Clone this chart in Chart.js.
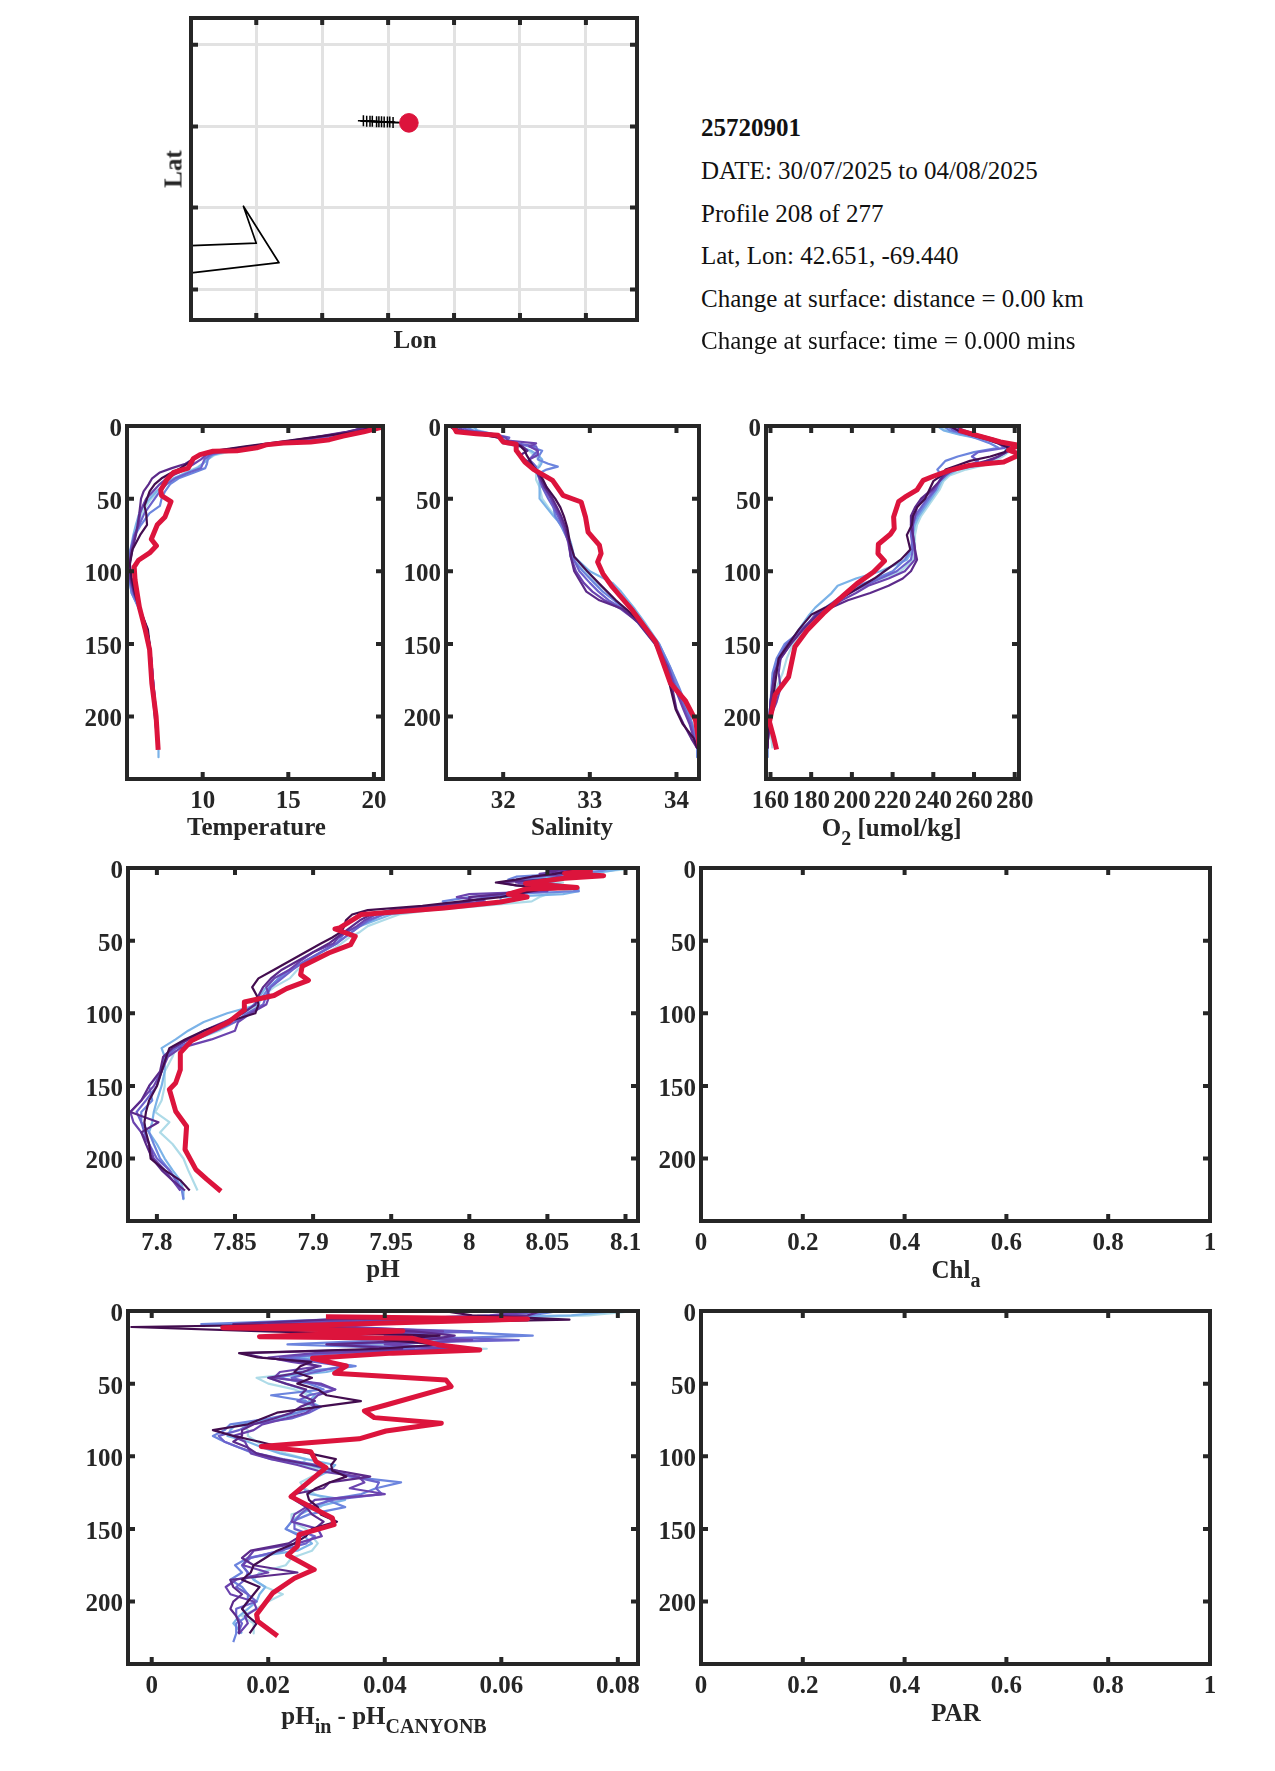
<!DOCTYPE html>
<html>
<head>
<meta charset="utf-8">
<title>25720901</title>
<script src="https://cdn.jsdelivr.net/npm/chart.js@4"></script>
<style>
  html, body { margin: 0; padding: 0; background: #fff; }
  #page { position: relative; width: 1275px; height: 1771px; overflow: hidden; font-family: "Liberation Serif", serif; }
  canvas { position: absolute; }
  .lbl { position: absolute; white-space: nowrap; transform: translate(-50%, -50%); font-weight: bold; font-size: 25px; color: #262626; line-height: 1; }
  .lbl sub { font-size: 20px; line-height: 0; vertical-align: -9px; }
  .info { position: absolute; left: 701px; white-space: nowrap; transform: translateY(-50%); font-size: 25px; color: #111; line-height: 1; }
</style>
</head>
<body>
<div id="page"></div>
<script>
// profile colours, oldest to newest
const lineColors = ["#aedbe8", "#7bb3e8", "#6c85de", "#6c62cc", "#6b43ae", "#5c2a8a", "#430d4f"];
const redColor = "#dc143c";

const depthTicks = [0, 50, 100, 150, 200];
const unitTicks = [0, 0.2, 0.4, 0.6, 0.8, 1];
const tempTicks = [10, 15, 20];
const salTicks = [32, 33, 34];
const oxyTicks = [160, 180, 200, 220, 240, 260, 280];
const phTicks = [7.8, 7.85, 7.9, 7.95, 8, 8.05, 8.1];
const diffTicks = [0, 0.02, 0.04, 0.06, 0.08];
const lonTicks = [-69.9, -69.7, -69.5, -69.3, -69.1, -68.9];
const latTicks = [42.241, 42.443, 42.642, 42.843];

// map
const coastLon = [-70.097, -69.9, -69.939, -69.831, -70.097];
const coastLat = [42.349, 42.355, 42.446, 42.307, 42.282];
const trackLon = [-69.585, -69.575, -69.565, -69.555, -69.548, -69.535, -69.528, -69.52, -69.512, -69.502, -69.495, -69.485, -69.437];
const trackLat = [42.656, 42.656, 42.655, 42.655, 42.655, 42.654, 42.654, 42.654, 42.653, 42.653, 42.653, 42.652, 42.651];
const floatLon = [-69.437];
const floatLat = [42.651];

// temperature
const tempDepth = [0, 4, 8, 11, 14, 17, 20, 23, 26, 29, 32, 36, 40, 45, 50, 55, 60, 68, 75, 85, 95, 105, 115, 125, 140, 155, 175, 200, 222, 228];
const tempLines = [
  [19.2, 18.9, 17.6, 16, 13.2, 11.8, 10.7, 10.3, 10, 9.6, 9, 8.4, 7.9, 7.4, 7, 6.7, 6.45, 6.25, 6.05, 5.85, 5.75, 5.75, 5.95, 6.3, 6.7, 6.95, 7.05, 7.3, 7.42],
  [19.6, 19.2, 17.4, 15.5, 13, 11.5, 10.6, 10.3, 10, 9.7, 9.1, 8.3, 7.8, 7.3, 6.9, 6.55, 6.3, 6.1, 5.95, 5.78, 5.7, 5.72, 5.85, 6.25, 6.75, 6.95, 7.1, 7.3, 7.42, 7.42],
  [19.9, 19, 17, 15.2, 12.8, 11.4, 10.5, 10.3, 10.25, 10.15, 9.5, 8.6, 8.1, 7.8, 7.6, 7.5, 6.9, 6.4, 6.05, 5.8, 5.7, 5.7, 5.85, 6.25, 6.75, 6.95, 7.1, 7.3, 7.42],
  [19.5, 18.7, 16.8, 15.3, 13.1, 11.3, 10.4, 10.1, 10, 9.9, 9.2, 8.4, 7.9, 7.5, 7.2, 6.9, 6.6, 6.3, 6, 5.8, 5.68, 5.7, 5.95, 6.3, 6.75, 6.95, 7.1, 7.3, 7.42],
  [19.8, 18.5, 16.6, 14.9, 13, 11, 10.2, 9.9, 9.5, 9.1, 8.6, 7.9, 7.5, 7.1, 6.7, 6.5, 6.35, 6.25, 6.05, 5.85, 5.7, 5.75, 6, 6.3, 6.75, 6.95, 7.1, 7.28, 7.4],
  [20, 18.4, 16.4, 14.6, 12.8, 10.9, 9.9, 9.4, 9, 8.2, 7.5, 7.05, 6.85, 6.55, 6.4, 6.35, 6.3, 6.2, 6.1, 5.9, 5.72, 5.8, 6, 6.3, 6.75, 6.95, 7.05, 7.25, 7.4],
  [20.2, 19, 16.3, 14.4, 12.5, 10.8, 9.8, 9.4, 9.1, 8.7, 8.2, 7.6, 7.2, 6.9, 6.75, 6.6, 6.7, 6.75, 6.35, 5.9, 5.75, 5.85, 6.05, 6.3, 6.8, 6.95, 7.02, 7.2, 7.4],
];
const tempRedDepth = [0.7, 4, 7, 9.4, 11, 11.7, 13, 15, 17, 17.4, 19.7, 22.5, 29, 32, 37, 44, 48, 52, 62.6, 68, 78, 82.5, 87.4, 92.4, 97, 106, 124.5, 140.6, 154, 177, 200, 223];
const tempRed = [20.5, 19.4, 18.2, 17.4, 16.3, 14.7, 13.7, 13.15, 12, 10.6, 9.85, 9.45, 9.15, 8.3, 7.9, 7.55, 7.6, 8.15, 7.8, 7.35, 7, 7.3, 6.9, 6.25, 6, 6.05, 6.3, 6.65, 6.9, 7.03, 7.28, 7.4];

// salinity
const salDepth = [0, 3, 5, 8, 10, 12, 14, 17, 20, 23, 26, 28, 30, 33, 37, 42, 50, 56, 62, 70, 80, 90, 100, 108, 114, 120, 126, 135, 150, 165, 180, 195, 205, 215, 222, 228];
const salLines = [
  [31.7, 31.6, 31.75, 32, 32.05, 32.1, 32.2, 32.3, 32.35, 32.42, 32.42, 32.4, 32.37, 32.38, 32.38, 32.42, 32.45, 32.52, 32.6, 32.68, 32.76, 32.78, 32.95, 33.08, 33.2, 33.3, 33.4, 33.55, 33.75, 33.88, 34, 34.1, 34.18, 34.22, 34.24],
  [31.65, 31.7, 31.85, 31.95, 32.02, 32, 32.18, 32.32, 32.4, 32.45, 32.44, 32.42, 32.38, 32.4, 32.42, 32.42, 32.42, 32.5, 32.58, 32.7, 32.78, 32.82, 33, 33.26, 33.36, 33.44, 33.52, 33.63, 33.8, 33.92, 34.02, 34.12, 34.18, 34.22, 34.24, 34.24],
  [31.55, 31.65, 31.8, 32.05, 32.05, 32.15, 32.3, 32.45, 32.42, 32.4, 32.52, 32.63, 32.5, 32.4, 32.45, 32.5, 32.55, 32.58, 32.6, 32.68, 32.76, 32.78, 32.92, 33.05, 33.15, 33.28, 33.4, 33.6, 33.8, 33.92, 34.03, 34.13, 34.18, 34.22, 34.24, 34.24],
  [31.5, 31.6, 31.85, 32.07, 32.05, 32.15, 32.38, 32.4, 32.35, 32.3, 32.35, 32.38, 32.38, 32.4, 32.42, 32.45, 32.52, 32.58, 32.63, 32.7, 32.76, 32.8, 32.88, 33, 33.1, 33.22, 33.38, 33.58, 33.78, 33.9, 34, 34.1, 34.17, 34.21, 34.24],
  [31.45, 31.55, 31.75, 32.03, 32.05, 32.38, 32.3, 32.4, 32.4, 32.3, 32.28, 32.32, 32.35, 32.4, 32.43, 32.47, 32.55, 32.6, 32.65, 32.7, 32.75, 32.78, 32.84, 32.93, 33.03, 33.17, 33.36, 33.56, 33.76, 33.9, 33.98, 34.08, 34.15, 34.2, 34.24],
  [31.4, 31.5, 31.7, 31.95, 32, 32.15, 32.22, 32.28, 32.2, 32.25, 32.32, 32.35, 32.37, 32.4, 32.44, 32.48, 32.57, 32.62, 32.67, 32.72, 32.76, 32.78, 32.82, 32.9, 32.96, 33.11, 33.38, 33.55, 33.75, 33.88, 33.95, 34, 34.08, 34.17, 34.24],
  [31.38, 31.45, 31.65, 31.95, 32, 32.12, 32.2, 32.25, 32.27, 32.3, 32.33, 32.35, 32.38, 32.42, 32.46, 32.5, 32.6, 32.66, 32.7, 32.74, 32.77, 32.82, 32.97, 33.1, 33.2, 33.3, 33.42, 33.58, 33.76, 33.87, 33.93, 33.99, 34.07, 34.2, 34.24],
];
const salRedDepth = [0.7, 4, 5.3, 6.4, 11, 12.6, 16.7, 24.8, 29.8, 37.4, 47.7, 52.3, 62.6, 73, 82, 87.8, 93.6, 101.6, 110.8, 126.8, 148.6, 177, 188.8, 202.5, 222.7];
const salRed = [31.43, 31.46, 31.69, 31.94, 32, 32.15, 32.15, 32.25, 32.35, 32.57, 32.69, 32.9, 32.95, 32.98, 33.11, 33.13, 33.09, 33.15, 33.26, 33.49, 33.76, 33.93, 34.1, 34.22, 34.27];

// oxygen
const oxyDepth = [0, 3, 6, 9, 12, 15, 18, 21, 24, 27, 30, 34, 38, 44, 50, 56, 62, 68, 75, 85, 92, 100, 105, 110, 115, 120, 125, 130, 140, 150, 160, 170, 180, 190, 200, 210, 222, 228];
const oxyLines = [
  [243, 246, 254, 266, 274, 278, 277, 274, 270, 265, 256, 248, 245, 243, 240, 237, 234, 232, 231, 231, 230, 224, 215, 205, 197, 192, 187, 183, 177, 171, 168, 166, 163, 161, 160, 160, 161],
  [242, 245, 253, 264, 272, 276, 275, 272, 268, 262, 252, 247, 244, 242, 239, 236, 233, 231, 230, 230, 227, 214, 202, 193, 190, 186, 182, 179, 174, 169, 164, 162, 161, 160, 159.5, 159, 158.5, 158.5],
  [245, 248, 256, 262, 268, 272, 260, 252, 246, 244, 242, 244, 243, 241, 238, 235, 232, 230, 230, 229, 226, 220, 212, 203, 197, 192, 187, 182, 176, 167, 163, 161, 160.5, 160, 159.5, 159, 158.5, 158.5],
  [247, 250, 258, 266, 272, 275, 262, 259, 262, 258, 248, 245, 243, 241, 237, 234, 231, 229, 229, 230, 229, 222, 214, 206, 199, 193, 188, 183, 175, 168, 164, 162, 161, 160, 159.5, 159, 158.5],
  [248, 252, 260, 268, 274, 277, 276, 272, 268, 262, 250, 246, 243, 240, 235, 232, 231, 230, 230, 231, 231, 226, 218, 208, 202, 195, 189, 182, 176, 170, 165, 164, 165, 163, 160, 159, 158.5],
  [250, 255, 262, 270, 275, 278, 276, 272, 266, 258, 248, 245, 243, 239, 234, 231, 229, 229, 230, 231, 232, 229, 225, 218, 209, 198, 190, 183, 176, 170, 165, 162, 161, 160, 159.5, 159, 158.5],
  [248, 252, 258, 266, 272, 277, 275, 268, 258, 252, 246, 244, 240, 238, 236, 232, 230, 229.5, 227, 228.7, 224, 216, 211, 205, 199, 193, 187, 180, 174, 169, 164, 163, 162, 161, 160, 159, 158.5],
];
const oxyRedDepth = [3, 6.4, 11, 13.3, 16.7, 19.5, 24.8, 27, 30.5, 34.6, 37.4, 44, 49, 52, 62.6, 70.6, 74.5, 81.4, 87.8, 92.9, 100.5, 108.5, 116.5, 129, 140.6, 152, 172.7, 185, 203.7, 214, 222.7];
const oxyRed = [252.5, 261.5, 273, 282, 277, 282.8, 274.6, 258, 248, 240, 235, 232, 226, 223, 220.5, 220.8, 218.9, 213, 212.8, 216, 210.6, 202.5, 196, 186, 178, 172, 168.9, 162.3, 159.5, 161.5, 163];

// pH
const phDepth = [0, 2, 4, 6, 8, 10, 12, 14, 16, 18, 20, 23, 26, 29, 32, 36, 40, 44, 48, 52, 58, 64, 70, 76, 82, 88, 94, 100, 106, 112, 118, 124, 130, 140, 150, 160, 168, 175, 182, 190, 200, 208, 215, 222, 228];
const phLines = [
  [8.108, 8.09, 8.07, 8.05, 8.04, 8.06, 8.05, 8.07, 8.06, 8.05, 8.045, 8.04, 8.01, 7.975, 7.955, 7.945, 7.935, 7.93, 7.923, 7.918, 7.91, 7.9, 7.89, 7.885, 7.875, 7.868, 7.865, 7.857, 7.85, 7.84, 7.825, 7.812, 7.81, 7.805, 7.805, 7.803, 7.799, 7.808, 7.802, 7.81, 7.817, 7.82, 7.823, 7.826],
  [8.1, 8.09, 8.075, 8.055, 8.03, 8.05, 8.055, 8.07, 8.07, 8.06, 8.02, 8.02, 8, 7.97, 7.95, 7.94, 7.93, 7.925, 7.92, 7.915, 7.905, 7.897, 7.885, 7.875, 7.87, 7.866, 7.865, 7.845, 7.83, 7.82, 7.812, 7.803, 7.805, 7.805, 7.803, 7.8, 7.798, 7.797, 7.795, 7.8, 7.805, 7.81, 7.815, 7.817, 7.817],
  [8.09, 8.085, 8.06, 8.03, 8.025, 8.05, 8.06, 8.065, 8.07, 8.02, 8, 7.983, 7.99, 7.965, 7.945, 7.937, 7.93, 7.92, 7.918, 7.915, 7.905, 7.895, 7.885, 7.878, 7.872, 7.868, 7.862, 7.855, 7.845, 7.835, 7.82, 7.81, 7.805, 7.803, 7.795, 7.797, 7.79, 7.79, 7.795, 7.798, 7.802, 7.808, 7.813, 7.816, 7.817],
  [8.085, 8.07, 8.06, 8.045, 8.03, 8.04, 8.05, 8.06, 8.04, 8.03, 8.01, 8, 7.985, 7.96, 7.945, 7.935, 7.93, 7.925, 7.92, 7.915, 7.905, 7.895, 7.887, 7.88, 7.873, 7.87, 7.868, 7.858, 7.85, 7.838, 7.825, 7.812, 7.806, 7.803, 7.8, 7.793, 7.787, 7.79, 7.792, 7.795, 7.8, 7.808, 7.812, 7.815],
  [8.08, 8.06, 8.045, 8.06, 8.05, 8.03, 8.04, 8.05, 8.05, 8, 7.992, 8.01, 7.98, 7.955, 7.94, 7.933, 7.928, 7.922, 7.916, 7.913, 7.9, 7.892, 7.885, 7.875, 7.87, 7.872, 7.87, 7.86, 7.852, 7.85, 7.835, 7.815, 7.807, 7.803, 7.798, 7.79, 7.783, 7.785, 7.79, 7.795, 7.798, 7.805, 7.81, 7.815],
  [8.07, 8.05, 8.06, 8.07, 8.045, 8.02, 8.03, 8.05, 8.03, 8.02, 8, 8, 7.975, 7.95, 7.937, 7.93, 7.925, 7.92, 7.915, 7.91, 7.9, 7.89, 7.88, 7.873, 7.868, 7.865, 7.863, 7.855, 7.843, 7.83, 7.82, 7.81, 7.804, 7.802, 7.795, 7.79, 7.783, 7.801, 7.79, 7.793, 7.797, 7.803, 7.81, 7.818],
  [8.075, 8.065, 8.055, 8.04, 8.03, 8.017, 8.03, 8.05, 8.04, 8.03, 8.02, 7.995, 7.97, 7.935, 7.925, 7.921, 7.92, 7.918, 7.912, 7.905, 7.895, 7.885, 7.875, 7.865, 7.861, 7.864, 7.865, 7.863, 7.845, 7.83, 7.818, 7.808, 7.806, 7.803, 7.8, 7.795, 7.793, 7.792, 7.793, 7.795, 7.796, 7.805, 7.815, 7.821],
];
const phRedDepth = [1.4, 3.7, 5.3, 7, 10.6, 13.5, 14.5, 18, 20, 23.4, 27.5, 30, 32, 41.3, 42, 47, 52.8, 58.5, 67.7, 73.4, 77.3, 83, 87.8, 92.2, 97.5, 106, 119, 127.3, 138.8, 148, 152.5, 167.4, 177.8, 193.8, 207.6, 214.4, 222.5];
const phRed = [8.079, 8.061, 8.086, 8.061, 8.036, 8.069, 8.036, 8.025, 8.037, 8.02, 7.984, 7.956, 7.931, 7.917, 7.914, 7.927, 7.924, 7.91, 7.893, 7.892, 7.897, 7.883, 7.875, 7.856, 7.856, 7.846, 7.822, 7.815, 7.815, 7.812, 7.808, 7.812, 7.819, 7.818, 7.825, 7.832, 7.841];

// pH minus CANYON-B
const diffDepth = [0, 3, 6, 9, 11, 14, 17, 20, 23, 26, 29, 32, 35, 38, 42, 46, 50, 54, 58, 62, 66, 70, 74, 78, 82, 86, 90, 94, 98, 102, 106, 110, 114, 118, 122, 126, 130, 135, 140, 145, 150, 155, 160, 165, 170, 175, 180, 185, 190, 195, 200, 205, 210, 215, 222, 228];
const diffLines = [
  [0.083, 0.075, 0.05, 0.03, 0.02, 0.055, 0.03, 0.05, 0.035, 0.0575, 0.04, 0.027, 0.03, 0.033, 0.027, 0.018, 0.02, 0.0245, 0.027, 0.026, 0.027, 0.024, 0.022, 0.015, 0.0165, 0.0165, 0.018, 0.02, 0.023, 0.0265, 0.0255, 0.03, 0.0275, 0.0255, 0.0262, 0.028, 0.03, 0.029, 0.024, 0.024, 0.0265, 0.0275, 0.0285, 0.0275, 0.024, 0.023, 0.0185, 0.0175, 0.0195, 0.0225, 0.02, 0.018, 0.0155, 0.0175, 0.0175],
  [0.08, 0.072, 0.04, 0.012, 0.025, 0.045, 0.02, 0.055, 0.04, 0.055, 0.035, 0.025, 0.03, 0.0345, 0.03, 0.02, 0.023, 0.026, 0.028, 0.027, 0.029, 0.025, 0.022, 0.0145, 0.0135, 0.013, 0.0165, 0.019, 0.022, 0.0265, 0.0315, 0.0305, 0.0285, 0.027, 0.026, 0.027, 0.0332, 0.028, 0.0255, 0.024, 0.023, 0.0262, 0.0275, 0.025, 0.0165, 0.0155, 0.0165, 0.0175, 0.0195, 0.0185, 0.018, 0.0165, 0.015, 0.014, 0.0155],
  [0.07, 0.065, 0.03, 0.0085, 0.02, 0.05, 0.0654, 0.04, 0.0233, 0.045, 0.03, 0.024, 0.03, 0.035, 0.025, 0.022, 0.027, 0.0295, 0.0205, 0.0265, 0.028, 0.025, 0.02, 0.0135, 0.0125, 0.0105, 0.0125, 0.015, 0.0175, 0.0205, 0.027, 0.031, 0.034, 0.0428, 0.0385, 0.036, 0.03, 0.0332, 0.027, 0.024, 0.023, 0.0255, 0.0245, 0.0225, 0.0165, 0.0143, 0.0155, 0.0135, 0.0155, 0.0165, 0.0165, 0.0155, 0.0165, 0.0145, 0.0145, 0.014],
  [0.068, 0.06, 0.035, 0.018, 0.03, 0.055, 0.04, 0.063, 0.03, 0.05, 0.032, 0.022, 0.028, 0.033, 0.028, 0.024, 0.028, 0.0315, 0.027, 0.025, 0.029, 0.027, 0.024, 0.017, 0.015, 0.0115, 0.0125, 0.015, 0.018, 0.0225, 0.0285, 0.031, 0.0345, 0.039, 0.0385, 0.0395, 0.031, 0.027, 0.0255, 0.0245, 0.0245, 0.028, 0.0265, 0.022, 0.017, 0.0155, 0.0165, 0.016, 0.0145, 0.0165, 0.018, 0.0145, 0.0145, 0.0155, 0.0148],
  [0.066, 0.058, 0.045, 0.02, 0.035, 0.05, 0.03, 0.055, 0.04, 0.052, 0.028, 0.02, 0.024, 0.029, 0.022, 0.021, 0.029, 0.0315, 0.0285, 0.0275, 0.028, 0.0265, 0.023, 0.019, 0.0175, 0.014, 0.016, 0.0165, 0.017, 0.0205, 0.025, 0.0285, 0.0355, 0.0365, 0.034, 0.04, 0.028, 0.0265, 0.0245, 0.024, 0.0285, 0.0292, 0.025, 0.0175, 0.0165, 0.0157, 0.02, 0.0145, 0.0127, 0.0135, 0.0175, 0.018, 0.016, 0.0165, 0.015],
  [0.067, 0.0645, 0.03, 0.014, 0.028, 0.045, 0.052, 0.047, 0.03, 0.043, 0.0155, 0.019, 0.026, 0.0285, 0.026, 0.02, 0.023, 0.0265, 0.0255, 0.028, 0.0255, 0.024, 0.021, 0.0175, 0.0155, 0.0155, 0.014, 0.0165, 0.018, 0.022, 0.0275, 0.032, 0.0375, 0.0305, 0.0295, 0.0245, 0.0245, 0.0265, 0.0275, 0.0295, 0.028, 0.0255, 0.0235, 0.017, 0.0155, 0.0175, 0.025, 0.0135, 0.014, 0.0155, 0.014, 0.0135, 0.0145, 0.015, 0.015],
  [0.05, 0.055, 0.0717, 0.03, -0.0035, 0.0196, 0.0494, 0.04, 0.05, 0.039, 0.015, 0.0182, 0.0274, 0.0255, 0.0245, 0.0275, 0.025, 0.0285, 0.03, 0.0359, 0.0285, 0.0215, 0.019, 0.0165, 0.0105, 0.014, 0.0185, 0.0225, 0.027, 0.0316, 0.0308, 0.031, 0.0334, 0.0305, 0.0282, 0.0267, 0.027, 0.0285, 0.029, 0.0318, 0.0275, 0.0265, 0.0245, 0.0215, 0.0195, 0.0175, 0.017, 0.0155, 0.0185, 0.0175, 0.0165, 0.0155, 0.0165, 0.018, 0.0168],
];
const diffRedDepth = [3.9, 5.5, 11.5, 13.8, 17.7, 18.8, 23.4, 26.8, 29, 32.6, 37.8, 42.9, 47.5, 52, 64.7, 68.8, 73.4, 77.3, 82.6, 88, 93.3, 96.8, 103.7, 107.8, 127.8, 142.5, 147, 154, 162, 168, 178, 184, 194, 209, 213.6, 223.7];
const diffRed = [0.0299, 0.0645, 0.0122, 0.0431, 0.0185, 0.0448, 0.0494, 0.0563, 0.0414, 0.0276, 0.0334, 0.0314, 0.0505, 0.0514, 0.0402, 0.0365, 0.0382, 0.0497, 0.0402, 0.0356, 0.0188, 0.0273, 0.0282, 0.0299, 0.0239, 0.031, 0.0313, 0.0253, 0.025, 0.0233, 0.0279, 0.0245, 0.0208, 0.018, 0.0182, 0.0216];

const frameColor = "#262626";
const page = document.getElementById("page");

// zip two arrays into points, stops at the shorter one
function pts(xs, ys) {
  const out = [];
  for (let i = 0; i < Math.min(xs.length, ys.length); i++) out.push({ x: xs[i], y: ys[i] });
  return out;
}

// chart.js paints low order on top, so newest gets the lowest
function profileSets(depth, lines, redDepth, red) {
  const sets = lines.map((vals, i) => ({
    data: pts(vals, depth), borderColor: lineColors[i], borderWidth: 2.2, pointRadius: 0, showLine: true, order: lines.length - i,
  }));
  sets.push({ data: pts(red, redDepth), borderColor: redColor, borderWidth: 5, pointRadius: 0, showLine: true, order: 0 });
  return sets;
}

// box round the axes with MATLAB style inward ticks
const framePlugin = {
  id: "frame",
  afterDatasetsDraw(chart) {
    const { ctx, chartArea: a, scales } = chart;
    ctx.save();
    ctx.strokeStyle = frameColor;
    ctx.lineWidth = 4;
    scales.x.ticks.forEach((t) => {
      const px = scales.x.getPixelForValue(t.value);
      ctx.beginPath();
      ctx.moveTo(px, a.top);
      ctx.lineTo(px, a.top + 7);
      ctx.moveTo(px, a.bottom);
      ctx.lineTo(px, a.bottom - 7);
      ctx.stroke();
    });
    scales.y.ticks.forEach((t) => {
      const py = scales.y.getPixelForValue(t.value);
      ctx.beginPath();
      ctx.moveTo(a.left, py);
      ctx.lineTo(a.left + 7, py);
      ctx.moveTo(a.right, py);
      ctx.lineTo(a.right - 7, py);
      ctx.stroke();
    });
    ctx.strokeRect(a.left, a.top, a.right - a.left, a.bottom - a.top);
    ctx.restore();
  },
};

function makeChart(box, xr, yr, xTicks, yTicks, datasets, opts) {
  opts = opts || {};
  const padL = 70, padT = 20, padR = 40, padB = 50;
  const c = document.createElement("canvas");
  c.width = box.r - box.l + padL + padR;
  c.height = box.b - box.t + padT + padB;
  c.style.left = box.l - padL + "px";
  c.style.top = box.t - padT + "px";
  page.appendChild(c);
  const tickFont = { family: "Liberation Serif", size: 25, weight: "bold" };
  const grid = opts.grid
    ? { display: true, color: "#e2e2e2", lineWidth: 3, drawTicks: false, tickLength: 0 }
    : { display: false, drawTicks: false, tickLength: 0 };
  return new Chart(c, {
    type: "scatter",
    data: { datasets },
    plugins: [framePlugin],
    options: {
      responsive: false,
      animation: false,
      events: [],
      layout: { padding: { left: 0, top: padT, right: padR, bottom: 0 } },
      plugins: { legend: { display: false }, tooltip: { enabled: false } },
      elements: { line: { tension: 0, borderJoinStyle: "round", borderCapStyle: "butt" } },
      scales: {
        x: {
          type: "linear", min: xr[0], max: xr[1],
          grid, border: { display: false },
          afterBuildTicks: (s) => { s.ticks = xTicks.map((v) => ({ value: v })); },
          afterFit: (s) => { s.height = padB; },
          ticks: {
            display: !opts.noLabels, autoSkip: false, maxRotation: 0, padding: 7.5, color: frameColor, font: tickFont,
            callback: (v) => String(v),
          },
        },
        y: {
          type: "linear", min: yr[0], max: yr[1], reverse: !opts.noReverse,
          grid, border: { display: false },
          afterBuildTicks: (s) => { s.ticks = yTicks.map((v) => ({ value: v })); },
          afterFit: (s) => { s.width = padL; },
          ticks: {
            display: !opts.noLabels, autoSkip: false, padding: 5, labelOffset: 3.5, color: frameColor, font: tickFont,
            callback: (v) => String(v),
          },
        },
      },
    },
  });
}

function label(html, x, y, rotate) {
  const d = document.createElement("div");
  d.className = "lbl";
  d.innerHTML = html;
  d.style.left = x + "px";
  d.style.top = y + "px";
  if (rotate) d.style.transform = "translate(-50%, -50%) rotate(-90deg)";
  page.appendChild(d);
}

function info(text, y, bold) {
  const d = document.createElement("div");
  d.className = "info";
  d.textContent = text;
  d.style.top = y + "px";
  if (bold) d.style.fontWeight = "bold";
  page.appendChild(d);
}

const depthRange = [0, 243];

// map panel
makeChart({ l: 191, r: 637.6, t: 18.3, b: 321 }, [-70.098, -68.745], [42.166, 42.909], lonTicks, latTicks, [
  { data: pts(coastLon, coastLat), borderColor: "#000", borderWidth: 1.7, pointRadius: 0, showLine: true, order: 3 },
  {
    data: pts(trackLon, trackLat), borderColor: "#000", borderWidth: 1.8, showLine: true, order: 2, pointStyle: "cross",
    pointRadius: (c) => (c.dataIndex === 0 || c.dataIndex === trackLon.length - 1 ? 0 : 5.5),
    pointBorderColor: "#000", pointBorderWidth: 1.5,
  },
  { data: pts(floatLon, floatLat), backgroundColor: redColor, borderColor: redColor, pointRadius: 9.3, pointStyle: "circle", order: 1 },
], { grid: true, noLabels: true, noReverse: true });
label("Lon", 415, 339);
label("Lat", 173, 169, true);

info("25720901", 127, true);
info("DATE: 30/07/2025 to 04/08/2025", 170);
info("Profile 208 of 277", 212.5);
info("Lat, Lon: 42.651, -69.440", 255);
info("Change at surface: distance = 0.00 km", 298);
info("Change at surface: time = 0.000 mins", 339.5);

// top row
makeChart({ l: 127, r: 383, t: 426, b: 779 }, [5.58, 20.53], depthRange, tempTicks, depthTicks, profileSets(tempDepth, tempLines, tempRedDepth, tempRed));
label("Temperature", 256.5, 826);
makeChart({ l: 445.7, r: 699.3, t: 426, b: 779 }, [31.34, 34.26], depthRange, salTicks, depthTicks, profileSets(salDepth, salLines, salRedDepth, salRed));
label("Salinity", 572, 826);
makeChart({ l: 765.7, r: 1019.3, t: 426, b: 779 }, [157.8, 282.1], depthRange, oxyTicks, depthTicks, profileSets(oxyDepth, oxyLines, oxyRedDepth, oxyRed));
label("O<sub>2</sub> [umol/kg]", 891.7, 827);

// middle row
makeChart({ l: 127.5, r: 637.6, t: 868, b: 1221 }, [7.7815, 8.108], depthRange, phTicks, depthTicks, profileSets(phDepth, phLines, phRedDepth, phRed));
label("pH", 383, 1268);
makeChart({ l: 701, r: 1210, t: 868, b: 1221 }, [0, 1], depthRange, unitTicks, depthTicks, []);
label("Chl<sub>a</sub>", 956, 1269);

// bottom row
makeChart({ l: 127.5, r: 637.6, t: 1311, b: 1664 }, [-0.00407, 0.08346], depthRange, diffTicks, depthTicks, profileSets(diffDepth, diffLines, diffRedDepth, diffRed));
label("pH<sub>in</sub> - pH<sub>CANYONB</sub>", 384, 1715);
makeChart({ l: 701, r: 1210, t: 1311, b: 1664 }, [0, 1], depthRange, unitTicks, depthTicks, []);
label("PAR", 956, 1712);
</script>
</body>
</html>
